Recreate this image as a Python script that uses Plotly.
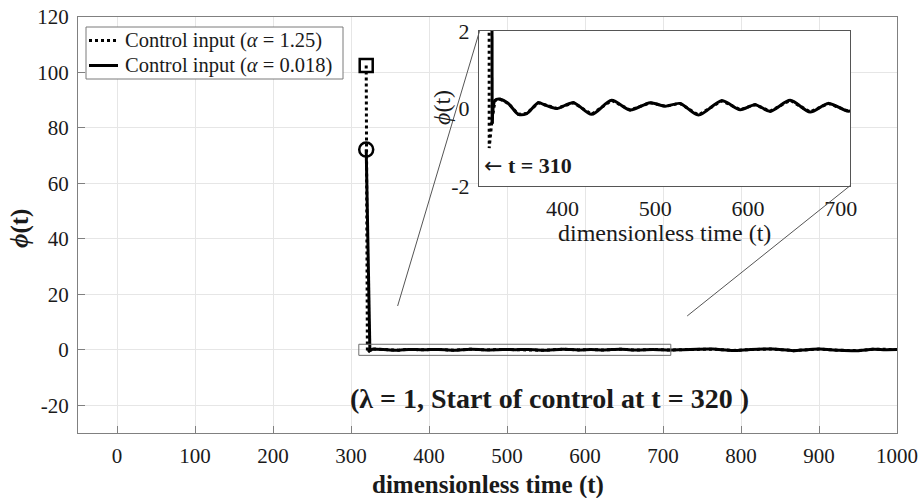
import plotly.graph_objects as go

# ---------------- data ----------------
# spike at start of control (alpha = 1.25, dotted)
t_spike_a125 = [319.5, 321.0, 324.0, 327.3]
phi_spike_a125 = [102.5, -1.02, -0.30, 0.21]
# spike at start of control (alpha = 0.018, solid)
t_spike_a0018 = [319.5, 324.2]
phi_spike_a0018 = [72.2, -0.39]
# oscillation after the spike (both inputs overlap)
t_osc = [324.2, 327.3, 332.6, 341.6, 352.4, 361.4, 374.0, 381.0, 393.8, 411.8,
         431.5, 453.0, 473.0, 494.5, 510.6, 526.8, 546.6, 571.8, 591.6, 607.7,
         623.9, 645.5, 667.0, 686.8, 708.4, 725.0, 744.0, 764.0, 790.0, 812.0,
         841.0, 867.0, 885.0, 901.0, 925.0, 949.0, 969.0, 985.0, 1000.0]
phi_osc = [-0.39, 0.21, 0.24, 0.13, -0.15, -0.13, 0.15, 0.09, 0.0, 0.15,
           -0.15, 0.21, -0.04, 0.15, 0.06, 0.13, -0.17, 0.20, -0.03, 0.10,
           -0.07, 0.21, -0.09, 0.13, -0.07, 0.05, 0.20, 0.25, -0.25, 0.10,
           0.28, -0.30, 0.05, 0.25, -0.15, -0.30, 0.22, 0.05, 0.10]
# peak markers
peak_a125 = (319.5, 102.5)
peak_a0018 = (319.5, 72.2)

legend_names = ["Control input (<i>α</i> = 1.25)", "Control input (<i>α</i> = 0.018)"]

main_x_ticks = [0, 100, 200, 300, 400, 500, 600, 700, 800, 900, 1000]
main_y_ticks = [-20, 0, 20, 40, 60, 80, 100, 120]
main_x_range = [-50, 1000]
main_y_range = [-30, 120]

inset_x_range = [310, 710]
inset_y_range = [-2, 2]
inset_x_ticks = [400, 500, 600, 700]
inset_y_ticks = [-2, 0, 2]

# connector lines (main data coords)
connector1 = (359.8, 15.8, 464.8, 114.9)
connector2 = (731.0, 12.2, 940.0, 59.2)

# ---------------- styling ----------------
FONT = "Liberation Serif, Times New Roman, serif"
INK = "#1a1a1a"
AXC = "#808080"
GRID = "#e6e6e6"
LW = 3

L, R, T, B = 78, 27, 17, 65
W, H = 924, 498
pw, ph = W - L - R, H - T - B


def px_x(px):
    return (px - L) / pw


def px_y(py):
    return 1 - (py - T) / ph


def lbl(v):
    return str(v).replace("−", "-")


fig = go.Figure()


def add_series(xa, ya):
    fig.add_trace(go.Scatter(x=t_spike_a125 + t_osc[2:], y=phi_spike_a125 + phi_osc[2:],
                             mode="lines", line=dict(color="black", width=LW, dash="dot"),
                             name=legend_names[0], showlegend=False, xaxis=xa, yaxis=ya))
    fig.add_trace(go.Scatter(x=t_spike_a0018, y=phi_spike_a0018, mode="lines",
                             line=dict(color="black", width=LW),
                             name=legend_names[1], showlegend=False, xaxis=xa, yaxis=ya))
    fig.add_trace(go.Scatter(x=t_osc, y=phi_osc, mode="lines",
                             line=dict(color="black", width=LW, shape="spline", smoothing=0.8),
                             name=legend_names[1], showlegend=False, xaxis=xa, yaxis=ya))


add_series("x", "y")
fig.add_trace(go.Scatter(x=[peak_a125[0]], y=[peak_a125[1]], mode="markers",
                         marker=dict(symbol="square-open", size=13, color="black",
                                     line=dict(width=2.5, color="black")),
                         showlegend=False))
fig.add_trace(go.Scatter(x=[peak_a0018[0]], y=[peak_a0018[1]], mode="markers",
                         marker=dict(symbol="circle-open", size=14, color="black",
                                     line=dict(width=2.5, color="black")),
                         showlegend=False))
add_series("x2", "y2")

inset_dom_x = [px_x(479), px_x(850)]
inset_dom_y = [px_y(186), px_y(31)]

fig.update_layout(
    width=W, height=H,
    margin=dict(l=L, r=R, t=T, b=B, autoexpand=False),
    paper_bgcolor="white", plot_bgcolor="white",
    font=dict(family=FONT, color=INK, size=21),
    showlegend=False,
    xaxis=dict(domain=[0, 1], range=main_x_range, tickvals=main_x_ticks,
               ticktext=[lbl(v) for v in main_x_ticks], automargin=False,
               showgrid=True, gridcolor=GRID, zeroline=False,
               showline=True, linecolor=AXC, mirror=True,
               ticks="inside", ticklen=7, tickcolor=AXC, ticklabelstandoff=4,
               tickfont=dict(size=21, family=FONT, color=INK)),
    yaxis=dict(domain=[0, 1], range=main_y_range, tickvals=main_y_ticks,
               ticktext=[lbl(v) for v in main_y_ticks], automargin=False,
               showgrid=True, gridcolor=GRID, zeroline=False,
               showline=True, linecolor=AXC, mirror=True,
               ticks="inside", ticklen=7, tickcolor=AXC, ticklabelstandoff=4,
               tickfont=dict(size=21, family=FONT, color=INK)),
    xaxis2=dict(domain=inset_dom_x, anchor="y2", range=inset_x_range, tickvals=inset_x_ticks,
                ticktext=[lbl(v) for v in inset_x_ticks], automargin=False,
                showgrid=True, gridcolor=GRID, zeroline=False,
                showline=True, linecolor="#555555", mirror=True, ticklabelstandoff=3,
                ticks="", tickfont=dict(size=22, family=FONT, color=INK)),
    yaxis2=dict(domain=inset_dom_y, anchor="x2", range=inset_y_range, tickvals=inset_y_ticks,
                ticktext=[lbl(v) for v in inset_y_ticks], automargin=False,
                showgrid=True, gridcolor=GRID, zeroline=False,
                showline=True, linecolor="#555555", mirror=True, ticklabelstandoff=4,
                ticks="", tickfont=dict(size=22, family=FONT, color=INK)),
)

# white background behind inset (between grid of main and inset traces)
fig.add_shape(type="rect", xref="x2", yref="y2",
              x0=inset_x_range[0], x1=inset_x_range[1], y0=inset_y_range[0], y1=inset_y_range[1],
              fillcolor="white", line=dict(width=0), layer="between")
# zoom rectangle on main axes
fig.add_shape(type="rect", xref="x", yref="y",
              x0=inset_x_range[0], x1=inset_x_range[1], y0=inset_y_range[0], y1=inset_y_range[1],
              line=dict(color="#6e6e6e", width=1), layer="above")
for c in (connector1, connector2):
    fig.add_shape(type="line", xref="x", yref="y", x0=c[0], y0=c[1], x1=c[2], y1=c[3],
                  line=dict(color="#555555", width=1), layer="above")

# custom legend (box, samples, labels)
fig.add_shape(type="rect", xref="paper", yref="paper",
              x0=px_x(86), x1=px_x(343), y0=px_y(79), y1=px_y(27),
              fillcolor="white", line=dict(color="#7a7a7a", width=1), layer="above")
legend_rows = [(40.5, "dot"), (65.5, "solid")]
for (yy, dsh), name in zip(legend_rows, legend_names):
    fig.add_shape(type="line", xref="paper", yref="paper",
                  x0=px_x(89), x1=px_x(118), y0=px_y(yy), y1=px_y(yy),
                  line=dict(color="black", width=LW, dash=dsh), layer="above")
    fig.add_annotation(text=name, xref="paper", yref="paper", x=px_x(123), y=px_y(yy),
                       xanchor="left", yanchor="middle", showarrow=False,
                       font=dict(size=20.5, family=FONT, color=INK))

# titles / annotations
fig.add_annotation(text="<b>dimensionless time (t)</b>", xref="paper", yref="paper",
                   x=0.5, y=px_y(485), showarrow=False, font=dict(size=25, family=FONT, color=INK),
                   xanchor="center", yanchor="middle")
fig.add_annotation(text="<b><i>ϕ</i>(t)</b>", xref="paper", yref="paper",
                   x=px_x(20), y=px_y(229), textangle=-90, showarrow=False,
                   font=dict(size=25, family=FONT, color=INK), xanchor="center", yanchor="middle")
fig.add_annotation(text="dimensionless time (t)", xref="paper", yref="paper",
                   x=px_x(664), y=px_y(233), showarrow=False,
                   font=dict(size=24, family=FONT, color=INK), xanchor="center", yanchor="middle")
fig.add_annotation(text="<i>ϕ</i>(t)", xref="paper", yref="paper",
                   x=px_x(442), y=px_y(108), textangle=-90, showarrow=False,
                   font=dict(size=24, family=FONT, color=INK), xanchor="center", yanchor="middle")
fig.add_annotation(text="<span style='font-family:DejaVu Sans'>←</span> <b>t = 310</b>",
                   xref="x2", yref="y2",
                   x=313.0, y=-1.46, showarrow=False, xanchor="left", yanchor="middle",
                   font=dict(size=22, family=FONT, color=INK))
fig.add_annotation(text="<b>(λ = 1, Start of control at t = 320 )</b>", xref="x", yref="y",
                   x=554.4, y=-17.6, showarrow=False, xanchor="center", yanchor="middle",
                   font=dict(size=28, family=FONT, color=INK))

fig.write_html("out.html")
